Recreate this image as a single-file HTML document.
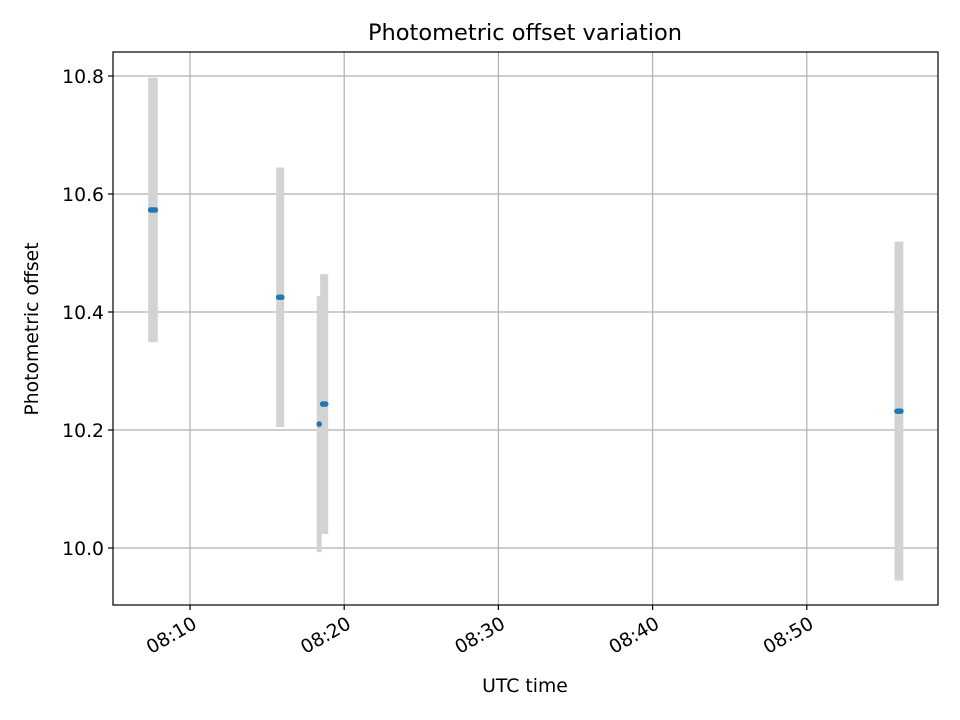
<!DOCTYPE html>
<html><head><meta charset="utf-8"><style>
html,body{margin:0;padding:0;background:#fff}
svg{display:block;font-family:"DejaVu Sans","Liberation Sans",sans-serif}
</style></head><body>
<svg id="chart" width="960" height="720" viewBox="0 0 960 720">
<rect width="960" height="720" fill="#fff"/>
<g id="grid"></g>
<g id="bars"></g>
<g id="pts"></g>
<rect x="113" y="52" width="825" height="553" fill="none" stroke="#000" stroke-width="1.2"/>
<g id="axes"></g>
<text x="525" y="40" text-anchor="middle" style="font-size:22.5px">Photometric offset variation</text>
<text x="525" y="692" text-anchor="middle" style="font-size:18.8px">UTC time</text>
<text transform="translate(38,329) rotate(-90)" text-anchor="middle" style="font-size:18.8px">Photometric offset</text>
</svg>
<script>
// minutes after 08:00
const times = [7.45, 7.6, 7.75, 15.75, 15.85, 15.95, 18.38, 18.6, 18.7, 18.8, 55.85, 55.97, 56.1];
const values = [10.573, 10.573, 10.573, 10.425, 10.425, 10.425, 10.210, 10.244, 10.244, 10.244, 10.232, 10.232, 10.232];
const errors = [0.224, 0.224, 0.224, 0.22, 0.22, 0.22, 0.217, 0.22, 0.22, 0.22, 0.287, 0.287, 0.287];
const xTicks = [10, 20, 30, 40, 50];
const xTickLabels = ["08:10", "08:20", "08:30", "08:40", "08:50"];
const yTicks = [10.0, 10.2, 10.4, 10.6, 10.8];
const yTickLabels = ["10.0", "10.2", "10.4", "10.6", "10.8"];

const NS = "http://www.w3.org/2000/svg";
const L = 113, R = 938, T = 52, B = 605;
const xs = m => 190 + (m - 10) * 15.42;
const ys = v => 76 + (10.8 - v) * 590;
function mk(tag, attrs, parent) {
  const e = document.createElementNS(NS, tag);
  for (const k in attrs) e.setAttribute(k, attrs[k]);
  parent.appendChild(e);
  return e;
}
const grid = document.getElementById('grid'), axes = document.getElementById('axes');
const bars = document.getElementById('bars'), pts = document.getElementById('pts');
xTicks.forEach((t, i) => {
  const x = xs(t);
  const g = mk('line', {x1: x, x2: x, y1: T, y2: B, stroke: '#b0b0b0', 'stroke-width': 1.2}, grid);
  
  
  const tk = mk('line', {x1: x, x2: x, y1: B, y2: B + 5, stroke: '#000', 'stroke-width': 1.2}, axes);
  
  
  const lb = mk('text', {transform: `translate(${x + 1},${B + 10}) rotate(-30)`, 'text-anchor': 'end', style: 'font-size:18.8px', dy: '0.75em'}, axes);
  lb.textContent = xTickLabels[i];
  
  
});
yTicks.forEach((t, i) => {
  const y = ys(t);
  const g = mk('line', {x1: L, x2: R, y1: y, y2: y, stroke: '#b0b0b0', 'stroke-width': 1.2}, grid);
  
  
  const tk = mk('line', {x1: L - 5, x2: L, y1: y, y2: y, stroke: '#000', 'stroke-width': 1.2}, axes);
  
  
  const lb = mk('text', {x: L - 9, y: y + 7, 'text-anchor': 'end', style: 'font-size:18.8px'}, axes);
  lb.textContent = yTickLabels[i];
  
  
});
times.forEach((t, i) => {
  const x = xs(t);
  const b = mk('line', {x1: x, x2: x, y1: ys(values[i] + errors[i]), y2: ys(values[i] - errors[i]), stroke: '#d3d3d3', 'stroke-width': 5}, bars);
  
  
  const c = mk('circle', {cx: x, cy: ys(values[i]), r: 2.8, fill: '#1f77b4'}, pts);
  
  
});
</script>
</body></html>
